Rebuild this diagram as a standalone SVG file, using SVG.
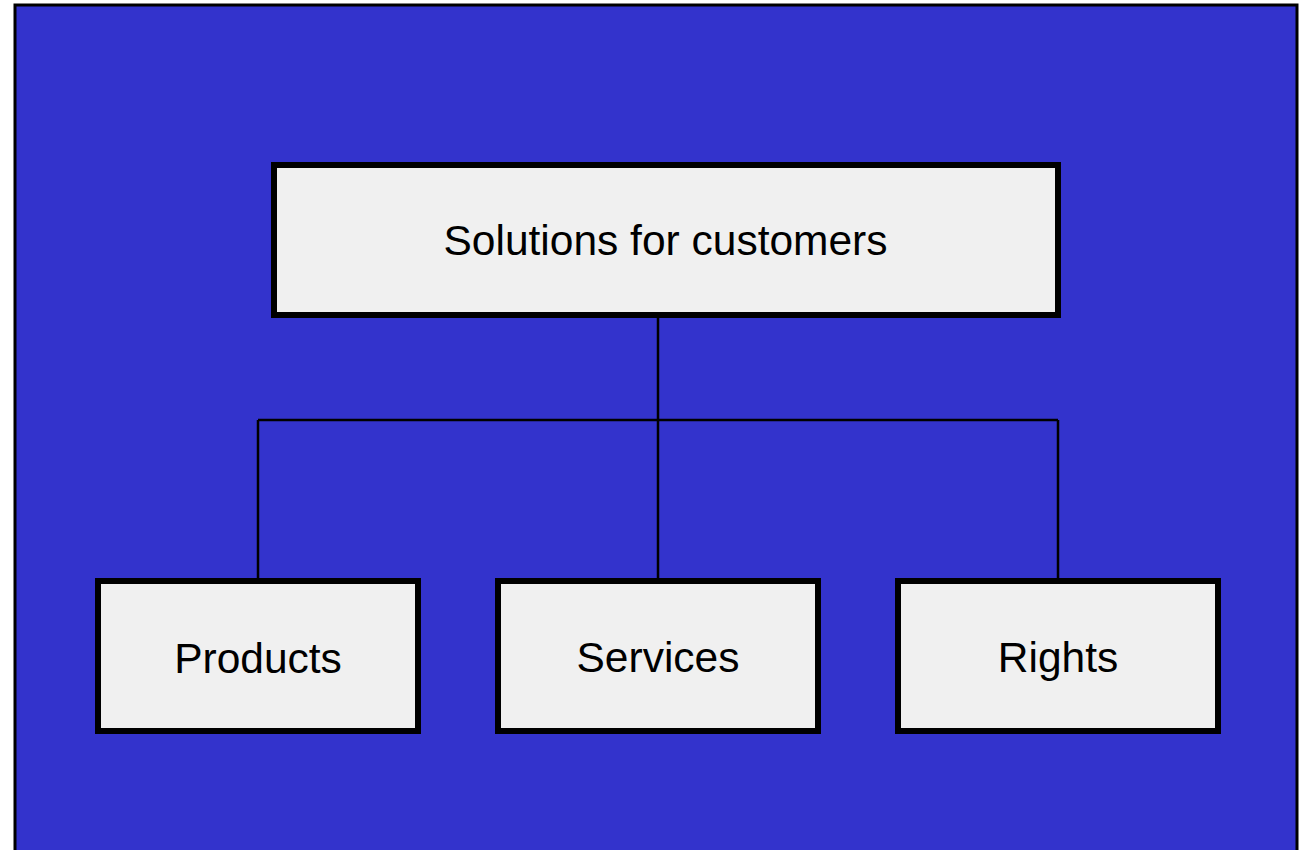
<svg xmlns="http://www.w3.org/2000/svg" width="1301" height="850" viewBox="0 0 1301 850">
<style>
.box{fill:#F0F0F0;stroke:#000;stroke-width:6}
.lbl{font-family:"Liberation Sans",Arial,sans-serif;font-size:42.5px;fill:#000;text-anchor:middle}
.conn{stroke:#000;stroke-width:2.5;fill:none}
</style>
<rect x="0" y="0" width="1301" height="850" fill="#FFFFFF"/>
<rect x="15" y="5" width="1282" height="860" fill="#3333CC" stroke="#000" stroke-width="3"/>
<g id="connectors">
<path class="conn" d="M658 318V420M258 420H1058M258 420V578M658 420V578M1058 420V578"/>
</g>
<g id="node-solutions">
<rect class="box" x="274" y="165" width="784" height="150"/>
<text class="lbl" x="665.5" y="255">Solutions for customers</text>
</g>
<g id="node-products">
<rect class="box" x="98" y="581" width="320" height="150"/>
<text class="lbl" x="258" y="673">Products</text>
</g>
<g id="node-services">
<rect class="box" x="498" y="581" width="320" height="150"/>
<text class="lbl" x="658" y="672">Services</text>
</g>
<g id="node-rights">
<rect class="box" x="898" y="581" width="320" height="150"/>
<text class="lbl" x="1058" y="672">Rights</text>
</g>
</svg>
